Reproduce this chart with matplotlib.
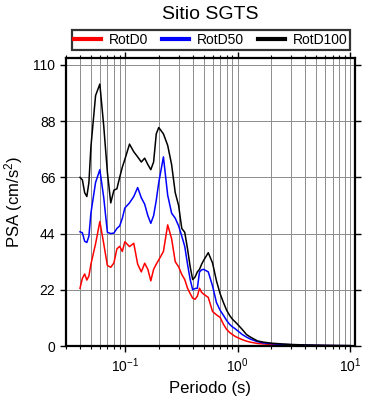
import numpy as np
import matplotlib.pyplot as plt
from matplotlib.ticker import LogLocator, FixedLocator

plt.rcParams['font.family'] = ['Liberation Sans', 'DejaVu Sans']
plt.rcParams['mathtext.fontset'] = 'custom'
plt.rcParams['mathtext.rm'] = 'Liberation Sans'
plt.rcParams['mathtext.it'] = 'Liberation Sans'

# Periodos (s)
periodo = [0.04, 0.042, 0.044, 0.046, 0.048, 0.05, 0.055, 0.06, 0.065, 0.07,
           0.075, 0.08, 0.085, 0.09, 0.095, 0.1, 0.11, 0.12, 0.13, 0.14,
           0.15, 0.16, 0.17, 0.18, 0.19, 0.2, 0.22, 0.24, 0.26, 0.28,
           0.3, 0.32, 0.34, 0.36, 0.38, 0.4, 0.42, 0.44, 0.46, 0.48,
           0.5, 0.55, 0.6, 0.65, 0.7, 0.75, 0.8, 0.85, 0.9, 0.95,
           1.0, 1.1, 1.2, 1.3, 1.5, 1.7, 2.0, 2.5, 3.0, 4.0,
           5.0, 6.0, 7.5, 10.0]

# PSA (cm/s^2)
rotd0 = [22.6, 26.5, 28.2, 25.8, 27.4, 32.0, 40.0, 48.7, 40.0, 31.5,
         30.8, 32.5, 38.0, 39.0, 37.0, 40.8, 38.9, 40.2, 32.0, 29.0,
         32.4, 30.0, 25.5, 30.0, 32.0, 33.7, 37.0, 47.4, 42.0, 33.0,
         31.0, 28.0, 26.0, 22.6, 20.5, 18.7, 18.3, 19.5, 22.6, 21.0,
         20.3, 19.0, 13.5, 12.2, 11.2, 8.5, 6.5, 5.3, 4.5, 3.8,
         3.3, 2.5, 1.9, 1.5, 1.0, 0.8, 0.6, 0.4, 0.35, 0.25,
         0.2, 0.15, 0.12, 0.1]

rotd50 = [44.7, 44.3, 41.0, 40.5, 43.0, 52.0, 64.0, 69.0, 58.0, 44.5,
          44.0, 44.2, 46.0, 47.0, 50.0, 54.0, 56.0, 58.5, 62.0, 58.0,
          55.5, 51.0, 48.0, 51.0, 57.0, 64.0, 74.0, 59.0, 52.0, 50.0,
          47.0, 43.0, 39.0, 32.0, 26.0, 22.0, 22.5, 22.6, 29.0, 29.8,
          30.0, 29.0, 23.5, 17.0, 14.0, 12.0, 10.0, 8.5, 7.5, 6.8,
          6.0, 4.5, 3.5, 2.7, 1.7, 1.2, 0.9, 0.6, 0.5, 0.35,
          0.25, 0.2, 0.15, 0.12]

rotd100 = [66.0, 65.0, 60.0, 58.5, 64.0, 78.0, 98.0, 102.5, 86.0, 68.0,
           56.0, 61.0, 61.5, 66.0, 70.0, 73.0, 79.0, 76.0, 74.0, 72.0,
           73.5, 71.0, 69.0, 72.0, 83.0, 85.5, 83.0, 78.5, 71.0, 60.0,
           55.0, 46.0, 44.5, 38.0, 31.0, 26.0, 27.0, 29.0, 30.0, 32.0,
           33.5, 36.5, 32.5, 25.5, 20.5, 17.0, 14.0, 12.0, 10.5, 9.5,
           8.5, 6.5, 4.5, 3.5, 2.0, 1.5, 1.1, 0.8, 0.6, 0.4,
           0.3, 0.25, 0.2, 0.15]

y_ticks = [0, 22, 44, 66, 88, 110]

fig = plt.figure(figsize=(3.9, 4.0), dpi=100)
ax = fig.add_axes([0.169, 0.135, 0.741, 0.72])

ax.plot(periodo, rotd0, color='red', lw=1.1, label='RotD0')
ax.plot(periodo, rotd50, color='blue', lw=1.1, label='RotD50')
ax.plot(periodo, rotd100, color='black', lw=1.1, label='RotD100')

ax.set_xscale('log')
ax.set_xlim(0.03, 11)
ax.set_ylim(0, 112.7)
ax.yaxis.set_major_locator(FixedLocator(y_ticks))
ax.xaxis.set_major_locator(LogLocator(base=10, numticks=10))
ax.xaxis.set_minor_locator(LogLocator(base=10, subs=np.arange(2, 10), numticks=20))

ax.grid(True, which='both', axis='x', color='#8c8c8c', lw=0.7)
ax.grid(True, which='major', axis='y', color='#8c8c8c', lw=0.7)
ax.set_axisbelow(True)

for s in ax.spines.values():
    s.set_linewidth(1.6)

ax.tick_params(which='major', direction='out', length=4, width=1, labelsize=10,
               top=True, right=True)
ax.tick_params(which='minor', direction='out', length=2.5, width=0.8,
               top=True, right=False)
ax.tick_params(axis='y', which='minor', left=False, right=False)

ax.set_xlabel('Periodo (s)', fontsize=12, labelpad=4)
ax.set_ylabel('PSA (cm/s$^2$)', fontsize=12, labelpad=6)

fig.text(0.54, 0.963, 'Sitio SGTS', ha='center', va='center', fontsize=14)

leg = fig.legend(loc='center', bbox_to_anchor=(0.541, 0.9), ncol=3,
                 fontsize=10, frameon=True, fancybox=False, edgecolor='black',
                 handlelength=1.9, handletextpad=0.6, columnspacing=1.0,
                 borderpad=0.2, borderaxespad=0)
leg.get_frame().set_linewidth(1.6)
for line in leg.get_lines():
    line.set_linewidth(3)

fig.savefig('out.png', dpi=100)
